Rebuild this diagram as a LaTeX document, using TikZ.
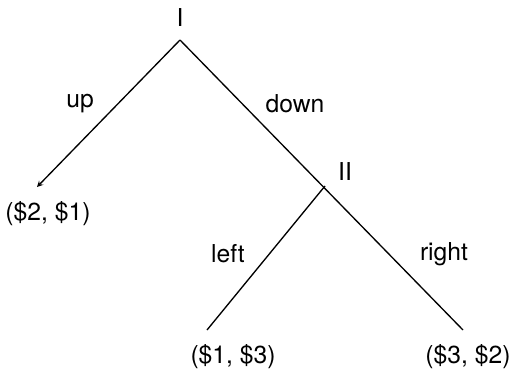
\documentclass[tikz,border=0pt]{standalone}
\usepackage{fontspec}
\setmainfont{TeX Gyre Heros}
\usetikzlibrary{arrows}

\begin{document}
\begin{tikzpicture}[x=0.75pt,y=-0.75pt,line width=1pt,
  lbl/.style={font=\fontsize{18.5}{22}\selectfont,inner sep=0pt}]
\useasboundingbox (0,0) rectangle (519,372);
\coordinate (v-I) at (180,40);
\coordinate (v-II) at (325,186);
\coordinate (v-UP) at (37,187);
\coordinate (v-LEFT) at (207,330);
\coordinate (v-RIGHT) at (463,330);
\node (t-I) at (180,18) [lbl] {I};
\node (t-II) at (345,172) [lbl] {II};
\node (t-up) at (80,104) [lbl] {up};
\node (t-down) at (295,104) [lbl] {down};
\node (t-left) at (228,254) [lbl] {left};
\node (t-right) at (444,254) [lbl] {right};
\node (t-UP) at (48,214) [lbl] {(\$2, \$1)};
\node (t-LEFT) at (233,357) [lbl] {(\$1, \$3)};
\node (t-RIGHT) at (468,357) [lbl] {(\$3, \$2)};
\draw[-stealth] (v-I) -- (v-UP);
\draw (v-I) -- (v-RIGHT);
\draw (v-II) -- (v-LEFT);
\end{tikzpicture}
\end{document}
